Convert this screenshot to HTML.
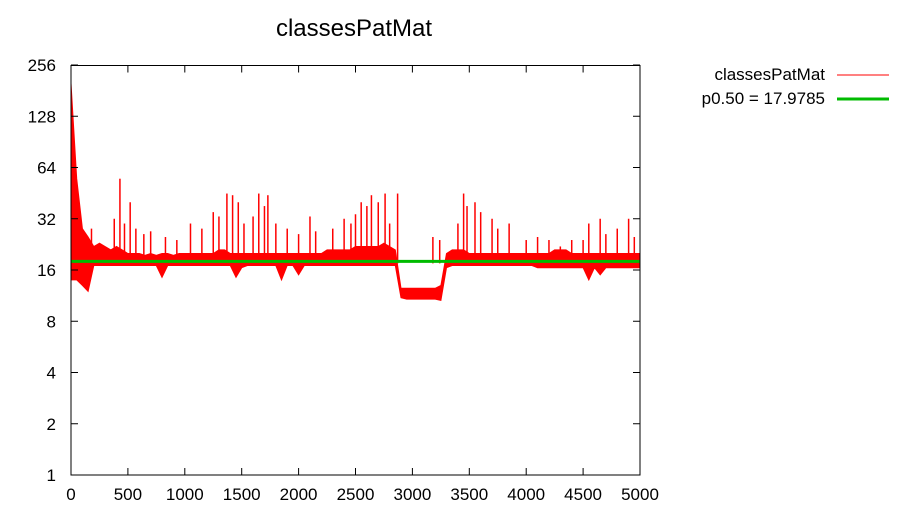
<!DOCTYPE html>
<html><head><meta charset="utf-8"><style>
body{margin:0;background:#fff}
svg text{font-family:"Liberation Sans",sans-serif;font-size:17px;fill:#000}
</style></head><body>
<svg id="chart" width="910" height="520" xmlns="http://www.w3.org/2000/svg">
<text x="354" y="36" text-anchor="middle" style="font-size:24px">classesPatMat</text>
<g id="marks"></g>
<rect x="71" y="65.5" width="569" height="409.5" fill="none" stroke="#000" stroke-width="1"/>
<g id="axes"></g>
<g>
<text x="825" y="80" text-anchor="end">classesPatMat</text>
<line x1="837" y1="75" x2="889" y2="75" stroke="#f00" stroke-width="1"/>
<text x="825" y="104" text-anchor="end">p0.50 = 17.9785</text>
<line x1="837" y1="99" x2="889" y2="99" stroke="#00bb00" stroke-width="3"/>
</g>
</svg>
<script>
const xTicks=[0,500,1000,1500,2000,2500,3000,3500,4000,4500,5000];
const yTicks=[1,2,4,8,16,32,64,128,256];
const step=50;
// upper envelope every 50 units (x=0..5000)
const hi=[200,55,28,25,22,23,22,21,22,21, 20,20,20,19.5,20,19.5,20,20,19.5,20, 20,20,20,20,20,20,21,21,20,20,
 20,20,20,20,20,20,20,20,20,20, 20,20,20,20,20,21,21,21,21,21,
 22,22,22,22,22,23,22,21,12.5,12.5, 12.5,12.5,12.5,12.5,12.5,13,20,21,21,21,
 20,20,20,20,20,20,20,20,20,20, 20,20,20,20,20,21,21,21,20,20, 20,20,20,20,20,20,20,20,20,20,20];
const lo=[14,14,13,12,17,17,17,17,17,17, 17,17,17,17,17,17,14.5,17,17,17, 17,17,17,17,17,17,17,17,17,14.5,
 16.5,17,17,17,17,17,17,14,17,17, 15,17,17,17,17,17,17,17,17,17,
 17,17,17,17,17,17,17,17,11,10.8, 10.8,10.8,10.8,10.8,10.8,10.6,16.5,17,17,17,
 17,17,17,17,17,17,17,17,17,17, 17,17,16.5,16.5,16.5,16.5,16.5,16.5,16.5,16.5, 16.5,14,16.5,15,16.5,16.5,16.5,16.5,16.5,16.5,16.5];
const spikeX=[180,380,430,470,520,570,640,700,830,930,1050,1150,1250,1300,1370,1420,1470,1520,1600,1650,1700,1730,1800,1900,2000,2100,2150,2300,2400,2460,2500,2550,2600,2640,2700,2760,2800,2870,3180,3240,3400,3450,3480,3550,3600,3700,3750,3850,4000,4100,4200,4300,4400,4500,4550,4650,4700,4800,4900,4950];
const spikeV=[28,32,55,30,40,28,26,27,25,24,30,28,35,33,45,44,40,30,33,45,38,44,30,28,26,33,27,28,32,30,34,40,38,44,40,45,30,45,25,24,30,45,38,40,35,32,28,30,24,25,24,22,24,24,30,32,26,28,32,25];
const median=17.9785;
const X=v=>71+v*(569/5000);
const Y=v=>475-Math.log2(v)*51.25;
const NS="http://www.w3.org/2000/svg";
const marks=document.getElementById('marks'),axes=document.getElementById('axes');
function mk(t,a,p){const e=document.createElementNS(NS,t);for(const k in a)e.setAttribute(k,a[k]);p.appendChild(e);return e;}
let pts=[];
hi.forEach((v,i)=>pts.push(X(i*step).toFixed(1)+','+Y(v).toFixed(1)));
for(let i=lo.length-1;i>=0;i--)pts.push(X(i*step).toFixed(1)+','+Y(lo[i]).toFixed(1));
const band=mk('polygon',{points:pts.join(' '),fill:'#f00',stroke:'#f00','stroke-width':1},marks);


spikeX.forEach((x,i)=>{const l=mk('line',{x1:X(x),x2:X(x),y1:Y(17.5),y2:Y(spikeV[i]),stroke:'#f00','stroke-width':1.5},marks);

});
const ml=mk('line',{x1:X(0),x2:X(5000),y1:Y(median),y2:Y(median),stroke:'#00bb00','stroke-width':3},marks);


xTicks.forEach(t=>{const x=X(t);
mk('line',{x1:x,x2:x,y1:475,y2:468,stroke:'#000'},axes);mk('line',{x1:x,x2:x,y1:65.5,y2:72.5,stroke:'#000'},axes);
const tx=mk('text',{x:x,y:500,'text-anchor':'middle'},axes);tx.textContent=t;

});
yTicks.forEach(t=>{const y=Y(t);
mk('line',{x1:71,x2:78,y1:y,y2:y,stroke:'#000'},axes);mk('line',{x1:640,x2:633,y1:y,y2:y,stroke:'#000'},axes);
const tx=mk('text',{x:56,y:y+6,'text-anchor':'end'},axes);tx.textContent=t;

});
</script>
</body></html>
